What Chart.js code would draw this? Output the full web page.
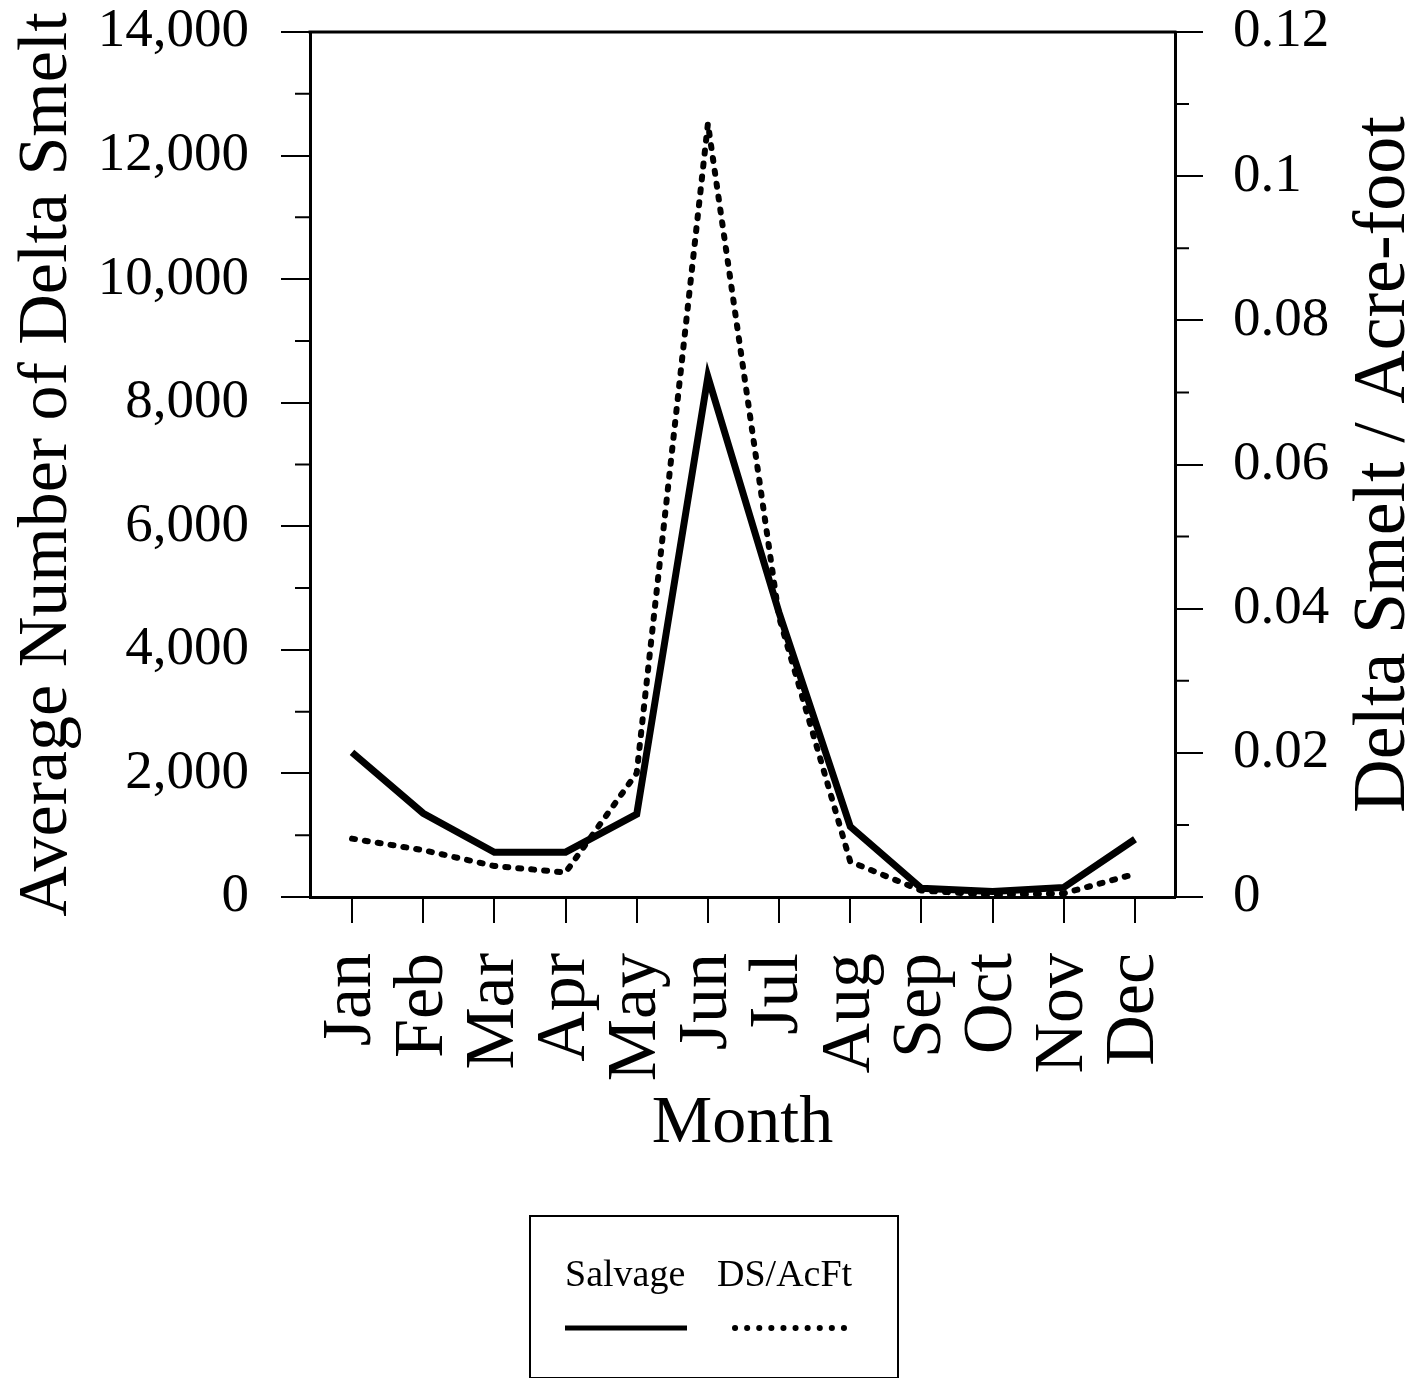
<!DOCTYPE html>
<html>
<head>
<meta charset="utf-8">
<script src="https://cdn.jsdelivr.net/npm/chart.js@4.4.1/dist/chart.umd.min.js"></script>
<style>
  body { margin: 0; background: #fff; }
  #wrap { position: relative; width: 1411px; height: 1378px; }
  #legend {
    position: absolute; left: 529px; top: 1215px; width: 366px; height: 160px;
    border: 2px solid #000; font-family: 'Liberation Serif', 'Times New Roman', serif;
  }
  #legend span { position: absolute; top: 37px; font-size: 38px; line-height: 38px; color: #000; }
  #legend svg { position: absolute; left: 0; top: 0; }
</style>
</head>
<body>
<div id="wrap">
  <canvas id="chart" width="1411" height="1378"></canvas>
  <div id="legend">
    <span style="left:34px">Salvage</span>
    <span style="left:186px">DS/AcFt</span>
    <svg width="366" height="160">
      <line x1="34" y1="111" x2="156" y2="111" stroke="#000" stroke-width="5"/>
      <line x1="204" y1="111" x2="314" y2="111" stroke="#000" stroke-width="6" stroke-dasharray="0.1 12" stroke-linecap="round"/>
    </svg>
  </div>
</div>
<script>
// data
const months = ["Jan", "Feb", "Mar", "Apr", "May", "Jun", "Jul", "Aug", "Sep", "Oct", "Nov", "Dec"];
const salvage = [2340, 1355, 725, 725, 1340, 8420, 4600, 1140, 140, 90, 155, 935];
const dsPerAcFt = [0.0081, 0.0065, 0.0043, 0.0034, 0.0172, 0.1073, 0.0388, 0.0049, 0.0009, 0.0003, 0.0005, 0.0032];

// axis ticks
const leftMinor = [1000, 3000, 5000, 7000, 9000, 11000, 13000];
const rightMinor = [0.01, 0.03, 0.05, 0.07, 0.09, 0.11];

const serif = "'Liberation Serif', 'Times New Roman', serif";
Chart.defaults.font.family = serif;
Chart.defaults.color = "#000";

// fixed axis sizes so the plot box lands where the original has it
function fixWidth(w) {
  return (s) => { s.width = w; s.paddingTop = 0; s.paddingBottom = 0; };
}

// top border, minor ticks and the right-hand title (reads bottom to top)
const frame = {
  id: "frame",
  afterDraw(chart) {
    const { ctx, chartArea: a, scales } = chart;
    ctx.save();
    ctx.strokeStyle = "#000";
    ctx.lineWidth = 3;
    ctx.beginPath();
    ctx.moveTo(a.left - 1.5, a.top);
    ctx.lineTo(a.right + 1.5, a.top);
    ctx.stroke();

    ctx.lineWidth = 2;
    ctx.beginPath();
    leftMinor.forEach((v) => {
      const y = scales.y.getPixelForValue(v);
      ctx.moveTo(a.left - 15, y);
      ctx.lineTo(a.left, y);
    });
    rightMinor.forEach((v) => {
      const y = scales.y1.getPixelForValue(v);
      ctx.moveTo(a.right, y);
      ctx.lineTo(a.right + 14, y);
    });
    ctx.stroke();

    ctx.translate(1404, (a.top + a.bottom) / 2);
    ctx.rotate(-Math.PI / 2);
    ctx.font = "74px " + serif;
    ctx.fillStyle = "#000";
    ctx.textAlign = "center";
    ctx.textBaseline = "alphabetic";
    ctx.fillText("Delta Smelt / Acre-foot", 0, 0);
    ctx.restore();
  }
};

const ctx = document.getElementById("chart").getContext("2d");
new Chart(ctx, {
  type: "line",
  data: {
    datasets: [
      {
        label: "Salvage",
        data: salvage.map((v, i) => ({ x: i, y: v })),
        yAxisID: "y",
        borderColor: "#000",
        borderWidth: 7,
        pointRadius: 0,
        tension: 0,
        clip: false
      },
      {
        label: "DS/AcFt",
        data: dsPerAcFt.map((v, i) => ({ x: i, y: v })),
        yAxisID: "y1",
        borderColor: "#000",
        borderWidth: 6,
        borderDash: [3, 10],
        borderCapStyle: "round",
        pointRadius: 0,
        tension: 0,
        clip: false
      }
    ]
  },
  options: {
    responsive: false,
    animation: false,
    devicePixelRatio: 1,
    layout: { padding: { left: 0, right: 0, top: 32, bottom: 213 } },
    plugins: { legend: { display: false }, tooltip: { enabled: false } },
    scales: {
      x: {
        type: "linear",
        position: "bottom",
        min: -0.59,
        max: 11.562,
        afterBuildTicks: (s) => { s.ticks = months.map((m, i) => ({ value: i })); },
        afterFit: (s) => { s.height = 268; s.paddingLeft = 0; s.paddingRight = 0; },
        ticks: {
          callback: (v) => months[v],
          autoSkip: false,
          minRotation: 90,
          maxRotation: 90,
          padding: 30,
          font: { size: 70, lineHeight: 1 }
        },
        grid: { drawOnChartArea: false, drawTicks: true, tickLength: 26, lineWidth: 2, color: "#000" },
        border: { display: true, color: "#000", width: 3 },
        title: { display: true, text: "Month", font: { size: 68 }, padding: { top: 0, bottom: 0 } }
      },
      y: {
        position: "left",
        min: 0,
        max: 14000,
        afterFit: fixWidth(310),
        ticks: {
          stepSize: 2000,
          callback: (v) => v.toLocaleString("en-US"),
          padding: 32,
          font: { size: 55, lineHeight: 1 }
        },
        grid: { drawOnChartArea: false, drawTicks: true, tickLength: 29, lineWidth: 2, color: "#000" },
        border: { display: true, color: "#000", width: 3 },
        title: { display: true, text: "Average Number of Delta Smelt", font: { size: 70 }, padding: { top: 6, bottom: 0 } }
      },
      y1: {
        position: "right",
        min: 0,
        max: 0.12,
        afterFit: fixWidth(236),
        ticks: {
          stepSize: 0.02,
          callback: (v) => String(parseFloat(v.toFixed(2))),
          padding: 30,
          font: { size: 55, lineHeight: 1 }
        },
        grid: { drawOnChartArea: false, drawTicks: true, tickLength: 28, lineWidth: 2, color: "#000" },
        border: { display: true, color: "#000", width: 3 }
      }
    }
  },
  plugins: [frame]
});
</script>
</body>
</html>
